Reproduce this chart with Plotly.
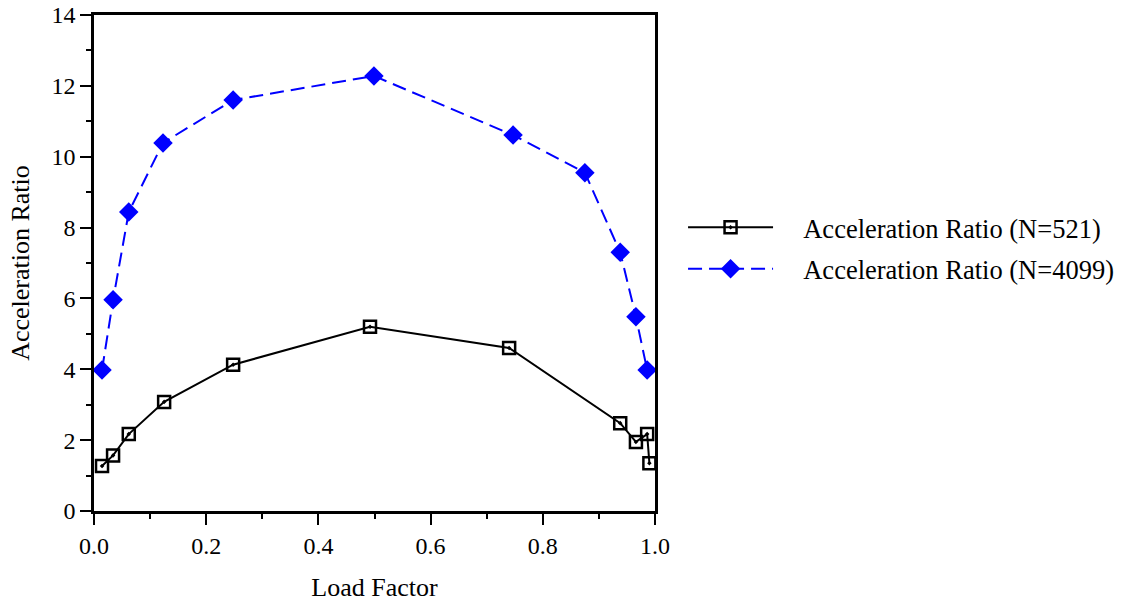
import plotly.graph_objects as go

load_factor_521 = [0.0143, 0.034, 0.062, 0.125, 0.248, 0.492, 0.740, 0.938, 0.966, 0.986, 0.990]
ratio_521 = [1.27, 1.57, 2.17, 3.08, 4.13, 5.20, 4.60, 2.48, 1.95, 2.17, 1.35]

load_factor_4099 = [0.0143, 0.034, 0.062, 0.123, 0.248, 0.499, 0.747, 0.875, 0.938, 0.966, 0.986]
ratio_4099 = [3.98, 5.96, 8.44, 10.39, 11.60, 12.28, 10.61, 9.55, 7.30, 5.48, 3.98]

name_521 = "Acceleration Ratio (N=521)"
name_4099 = "Acceleration Ratio (N=4099)"

FONT = "Liberation Serif"
PAD = "\u00a0\u00a0\u00a0\u2009"

fig = go.Figure()
fig.add_trace(go.Scatter(
    x=load_factor_521, y=ratio_521, name=PAD + name_521, mode="lines+markers",
    legendgroup="a",
    line=dict(color="black", width=2),
    marker=dict(symbol="square-open-dot", size=12, color="black",
                line=dict(color="black", width=2.5)),
))
fig.add_trace(go.Scatter(
    x=load_factor_4099, y=ratio_4099, name=PAD + name_4099, mode="lines+markers",
    legendgroup="b",
    line=dict(color="#0000FF", width=2, dash="14px,7px"),
    marker=dict(symbol="diamond", size=15, color="#0000FF"),
))

axis_common = dict(
    showline=True, linecolor="black", linewidth=2.5, mirror=True,
    showgrid=False, zeroline=False, automargin=False,
    ticklabeloverflow="allow",
    ticks="outside", ticklen=11, tickwidth=2, tickcolor="black",
    tickfont=dict(family=FONT, size=24, color="black"),
)

fig.update_xaxes(
    range=[0, 1], tickvals=[0, 0.2, 0.4, 0.6, 0.8, 1.0],
    ticktext=["0.0", "0.2", "0.4", "0.6", "0.8", "1.0"],
    minor=dict(dtick=0.1, ticks="outside", ticklen=5, tickwidth=2, tickcolor="black"),
    title=dict(text="Load Factor", font=dict(family=FONT, size=26, color="black"), standoff=21),
    **axis_common,
)
fig.update_yaxes(
    range=[0, 14], dtick=2,
    minor=dict(dtick=1, ticks="outside", ticklen=5, tickwidth=2, tickcolor="black"),
    title=dict(text="Acceleration Ratio", font=dict(family=FONT, size=26, color="black"), standoff=15),
    **axis_common,
)

fig.update_layout(
    width=1125, height=604,
    margin=dict(l=94, r=470, t=15, b=93, autoexpand=False),
    paper_bgcolor="white", plot_bgcolor="white",
    font=dict(family=FONT, size=26, color="black"),
    showlegend=True,
    legend=dict(
        x=1.05, xanchor="left", y=0.53, yanchor="middle",
        itemwidth=85, traceorder="grouped", tracegroupgap=4,
        font=dict(family=FONT, size=26.5, color="black"),
        bgcolor="rgba(0,0,0,0)",
    ),
)

# remove the default 8px page margin so the figure sits at the window's corner
fig.write_html("out.html", config={"displayModeBar": False},
               post_script="document.body.style.margin='0';")
